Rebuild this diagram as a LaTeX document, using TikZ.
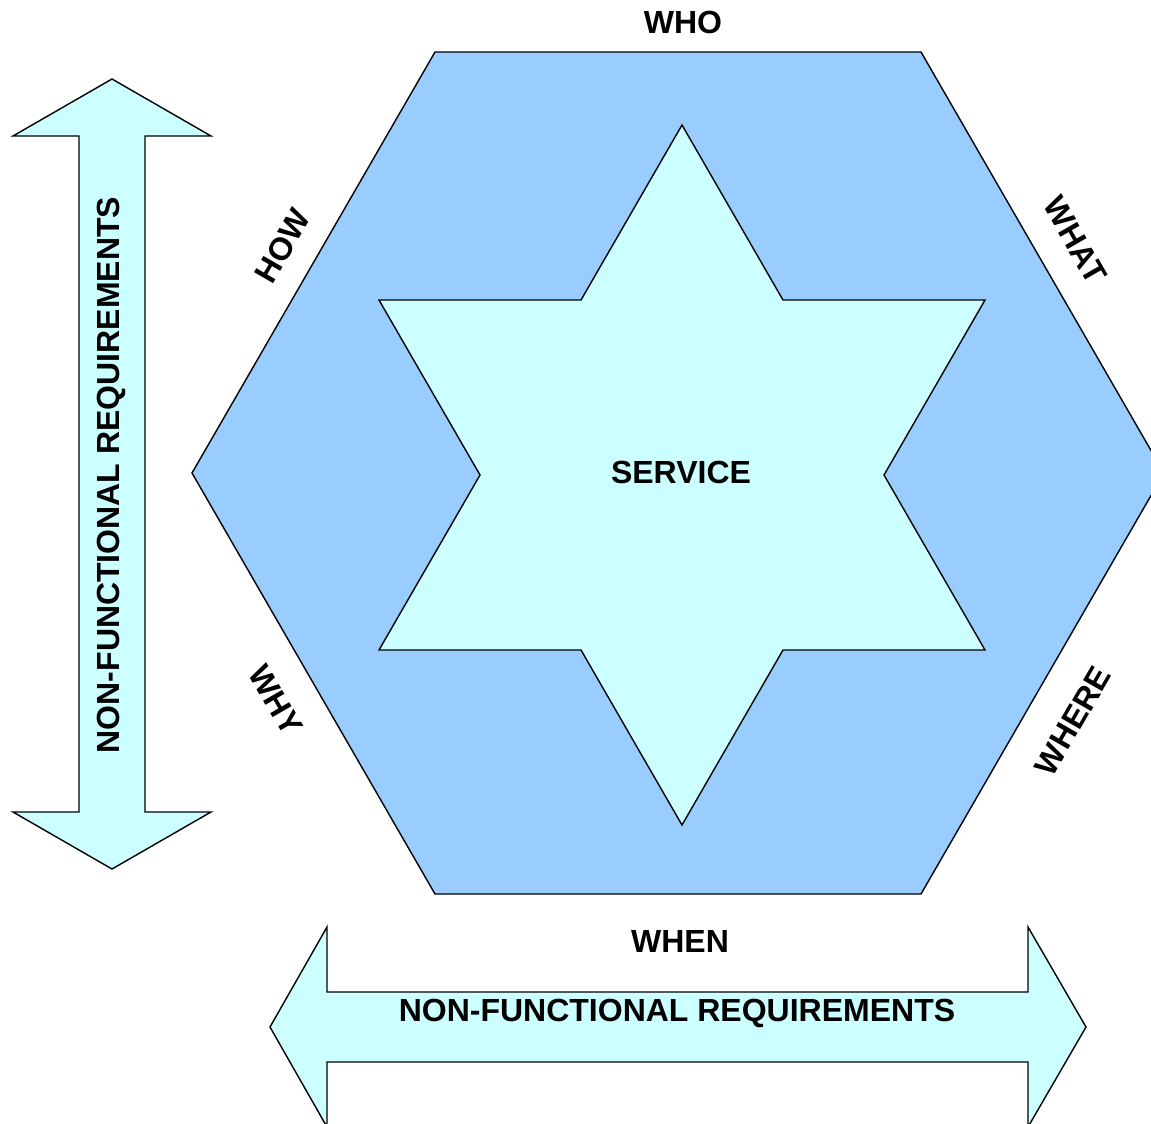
\documentclass[tikz,border=0pt]{standalone}
\usepackage{fontspec}
\setmainfont{Liberation Sans}
\usepackage{tikz}
\usetikzlibrary{positioning}

\definecolor{hexblue}{RGB}{153,204,255}
\definecolor{palecyan}{RGB}{204,255,255}

\begin{document}
\begin{tikzpicture}[x=0.5pt,y=-0.5pt,
		outline/.style={draw=black,line width=0.7pt,line join=miter},
		label/.style={font=\fontsize{16}{19}\selectfont\bfseries,inner sep=0pt}]
		\clip (0,0) rectangle (1151,1124);
		\fill[white] (0,0) rectangle (1151,1124);
		% hexagon
		\draw[outline,fill=hexblue] (435,52) -- (921,52) -- (1164,473) -- (921,894) -- (435,894) -- (192,473) -- cycle;
		% six-pointed star
		\draw[outline,fill=palecyan] (682,125) -- (783,300) -- (985,300) -- (884,475) -- (985,650) -- (783,650)
			-- (682,825) -- (581,650) -- (379,650) -- (480,475) -- (379,300) -- (581,300) -- cycle;
		% double arrows
		\draw[outline,fill=palecyan] (112,79) -- (211,136) -- (145,136) -- (145,812) -- (211,812) -- (112,869)
			-- (13,812) -- (79,812) -- (79,136) -- (13,136) -- cycle;
		\draw[outline,fill=palecyan] (270,1027) -- (327,927) -- (327,992) -- (1028,992) -- (1028,927) -- (1086,1027)
			-- (1028,1127) -- (1028,1062) -- (327,1062) -- (327,1127) -- cycle;
		% labels
		\node[label] (service) at (681,472) {SERVICE};
		\node[label] (who) at (683,22) {WHO};
		\node[label] (when) at (680,941) {WHEN};
		\node[label,rotate=60] (how) at (283,246) {HOW};
		\node[label,rotate=-60] (what) at (1075,240) {WHAT};
		\node[label,rotate=-60] (why) at (276,700) {WHY};
		\node[label,rotate=60] (where) at (1073,721) {WHERE};
		\node[label,rotate=90] (nfrv) at (111,475) {NON-FUNCTIONAL REQUIREMENTS};
		\node[label] (nfrh) at (677,1013) {NON-FUNCTIONAL REQUIREMENTS};
\end{tikzpicture}
\end{document}
